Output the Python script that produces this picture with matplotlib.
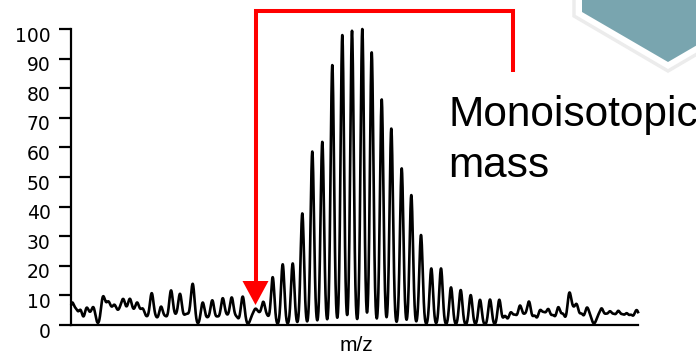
import numpy as np
import matplotlib
matplotlib.use('Agg')
import matplotlib.pyplot as plt
from matplotlib.patches import Polygon
from matplotlib.transforms import ScaledTranslation

# picos isotopicos principales (posicion m/z en unidades arbitrarias, intensidad %)
pos_picos = [272.7, 282.7, 292.7, 302.3, 312.3, 322.3, 332.3, 342.3, 352.0, 362.3, 371.7, 381.7,
             391.3, 401.7, 411.3, 421.0, 431.3, 441.0, 451.0, 460.7, 470.7, 480.0, 490.0, 499.3]
int_picos = [16.1, 20.5, 20.8, 37.7, 58.6, 61.9, 87.8, 98.0, 99.4, 100.0, 92.1, 76.2,
             66.4, 52.9, 43.9, 30.4, 19.1, 19.1, 12.7, 11.8, 10.1, 8.5, 8.6, 8.5]

# ruido de fondo
pos_ruido = [72.0, 76.0, 80.5, 86.5, 90.0, 93.5, 102.7, 105.5, 108.5, 111.5, 114.5, 117.5,
             120.5, 123.5, 127.0, 130.0, 133.5, 137.0, 140.0, 143.0, 147.0, 151.7, 156.0, 161.0,
             165.5, 171.0, 175.5, 180.0, 185.0, 188.0, 192.7, 202.7, 207.5, 212.3, 217.5, 222.7,
             227.0, 231.7, 236.5, 242.7, 252.0, 255.5, 259.0, 263.3, 267.5,
             505.0, 510.7, 515.0, 520.0, 524.5, 529.0, 534.5, 540.0, 544.0, 548.3, 553.0, 558.3,
             563.0, 569.3, 573.0, 576.7, 581.5, 586.7, 590.0, 598.0, 601.7, 606.0, 610.0, 614.0,
             618.3, 622.5, 626.7, 631.0, 635.5, 638.0]
int_ruido = [7.0, 4.5, 4.8, 5.3, 2.5, 5.5, 8.2, 3.5, 6.0, 3.0, 5.2, 2.5,
             4.0, 7.0, 3.0, 7.4, 3.0, 6.3, 2.5, 4.5, 2.0, 10.5, 2.0, 6.0,
             2.5, 11.5, 2.5, 10.3, 2.5, 2.5, 13.8, 7.5, 2.0, 8.2, 2.5, 8.8,
             2.5, 9.1, 2.5, 9.6, 2.5, 4.5, 3.0, 7.4, 2.5,
             3.0, 4.0, 3.0, 6.3, 3.0, 7.7, 3.0, 4.6, 3.5, 5.0, 3.0, 5.8,
             3.5, 10.3, 4.0, 6.3, 3.5, 5.2, 2.5, 2.5, 5.0, 3.0, 4.0, 3.0,
             4.3, 3.0, 3.5, 3.0, 3.2, 3.0]

yticks = [0, 10, 20, 30, 40, 50, 60, 70, 80, 90, 100]


def espectro(x):
    y = np.zeros_like(x)
    for p, h in zip(pos_picos, int_picos):
        y += h * np.exp(-(x - p) ** 2 / (2 * 1.7 ** 2))
    for p, h in zip(pos_ruido, int_ruido):
        y += h * np.exp(-(x - p) ** 2 / (2 * 1.9 ** 2))
    return y


fig = plt.figure(figsize=(6.96, 3.55), dpi=100)
W, H = 696, 355

# logo hexagonal cortado arriba a la derecha
borde = [(574, -120), (574, 16), (668, 71), (762, 16), (762, -120)]
hexa = [(582, -120), (582, 12), (668, 62), (754, 12), (754, -120)]
fig.patches.append(Polygon([(a / W, 1 - b / H) for a, b in borde], closed=True,
                           transform=fig.transFigure, facecolor='white',
                           edgecolor='#ececec', lw=2.5))
fig.patches.append(Polygon([(a / W, 1 - b / H) for a, b in hexa], closed=True,
                           transform=fig.transFigure, facecolor='#79a5af',
                           edgecolor='none'))

ax = fig.add_axes([71 / W, 30 / H, (638 - 71) / W, 296 / H])
x = np.linspace(71.5, 638, 4000)
ax.plot(x, espectro(x), color='black', lw=1.9, clip_on=False)

ax.set_xlim(71, 638)
ax.set_ylim(0, 100)
ax.set_yticks(yticks)
ax.set_xticks([])
for s in ['top', 'right']:
    ax.spines[s].set_visible(False)
for s in ['left', 'bottom']:
    ax.spines[s].set_linewidth(1.6)
ax.tick_params(axis='y', length=8.6, width=1.6, pad=6.0, labelsize=13.5)
desp = ScaledTranslation(0, -0.05, fig.dpi_scale_trans)
for lab in ax.get_yticklabels():
    lab.set_transform(lab.get_transform() + desp)
    lab.set_family('DejaVu Sans')

ax.set_xlabel('m/z', family='Liberation Sans', fontsize=15, va='baseline')
ax.xaxis.set_label_coords(0.504, -0.088)

# flecha roja hacia la masa monoisotopica
def ypx(py):
    return (325 - py) / 2.96

ax.plot([255.5, 255.5, 512.5, 512.5], [ypx(281), ypx(11), ypx(11), ypx(72)],
        color='#ff0000', lw=2.9, solid_joinstyle='miter', solid_capstyle='butt', clip_on=False)
ax.add_patch(Polygon([(242.5, ypx(281)), (268.5, ypx(281)), (255.5, ypx(305))], closed=True,
                     facecolor='#ff0000', edgecolor='none', clip_on=False))

fig.text(448 / W, 1 - 126 / H, 'Monoisotopic', family='Liberation Sans', fontsize=30.5,
         va='baseline', ha='left')
fig.text(448 / W, 1 - 177 / H, 'mass', family='Liberation Sans', fontsize=30.5,
         va='baseline', ha='left')

fig.savefig('out.png', dpi=100)
